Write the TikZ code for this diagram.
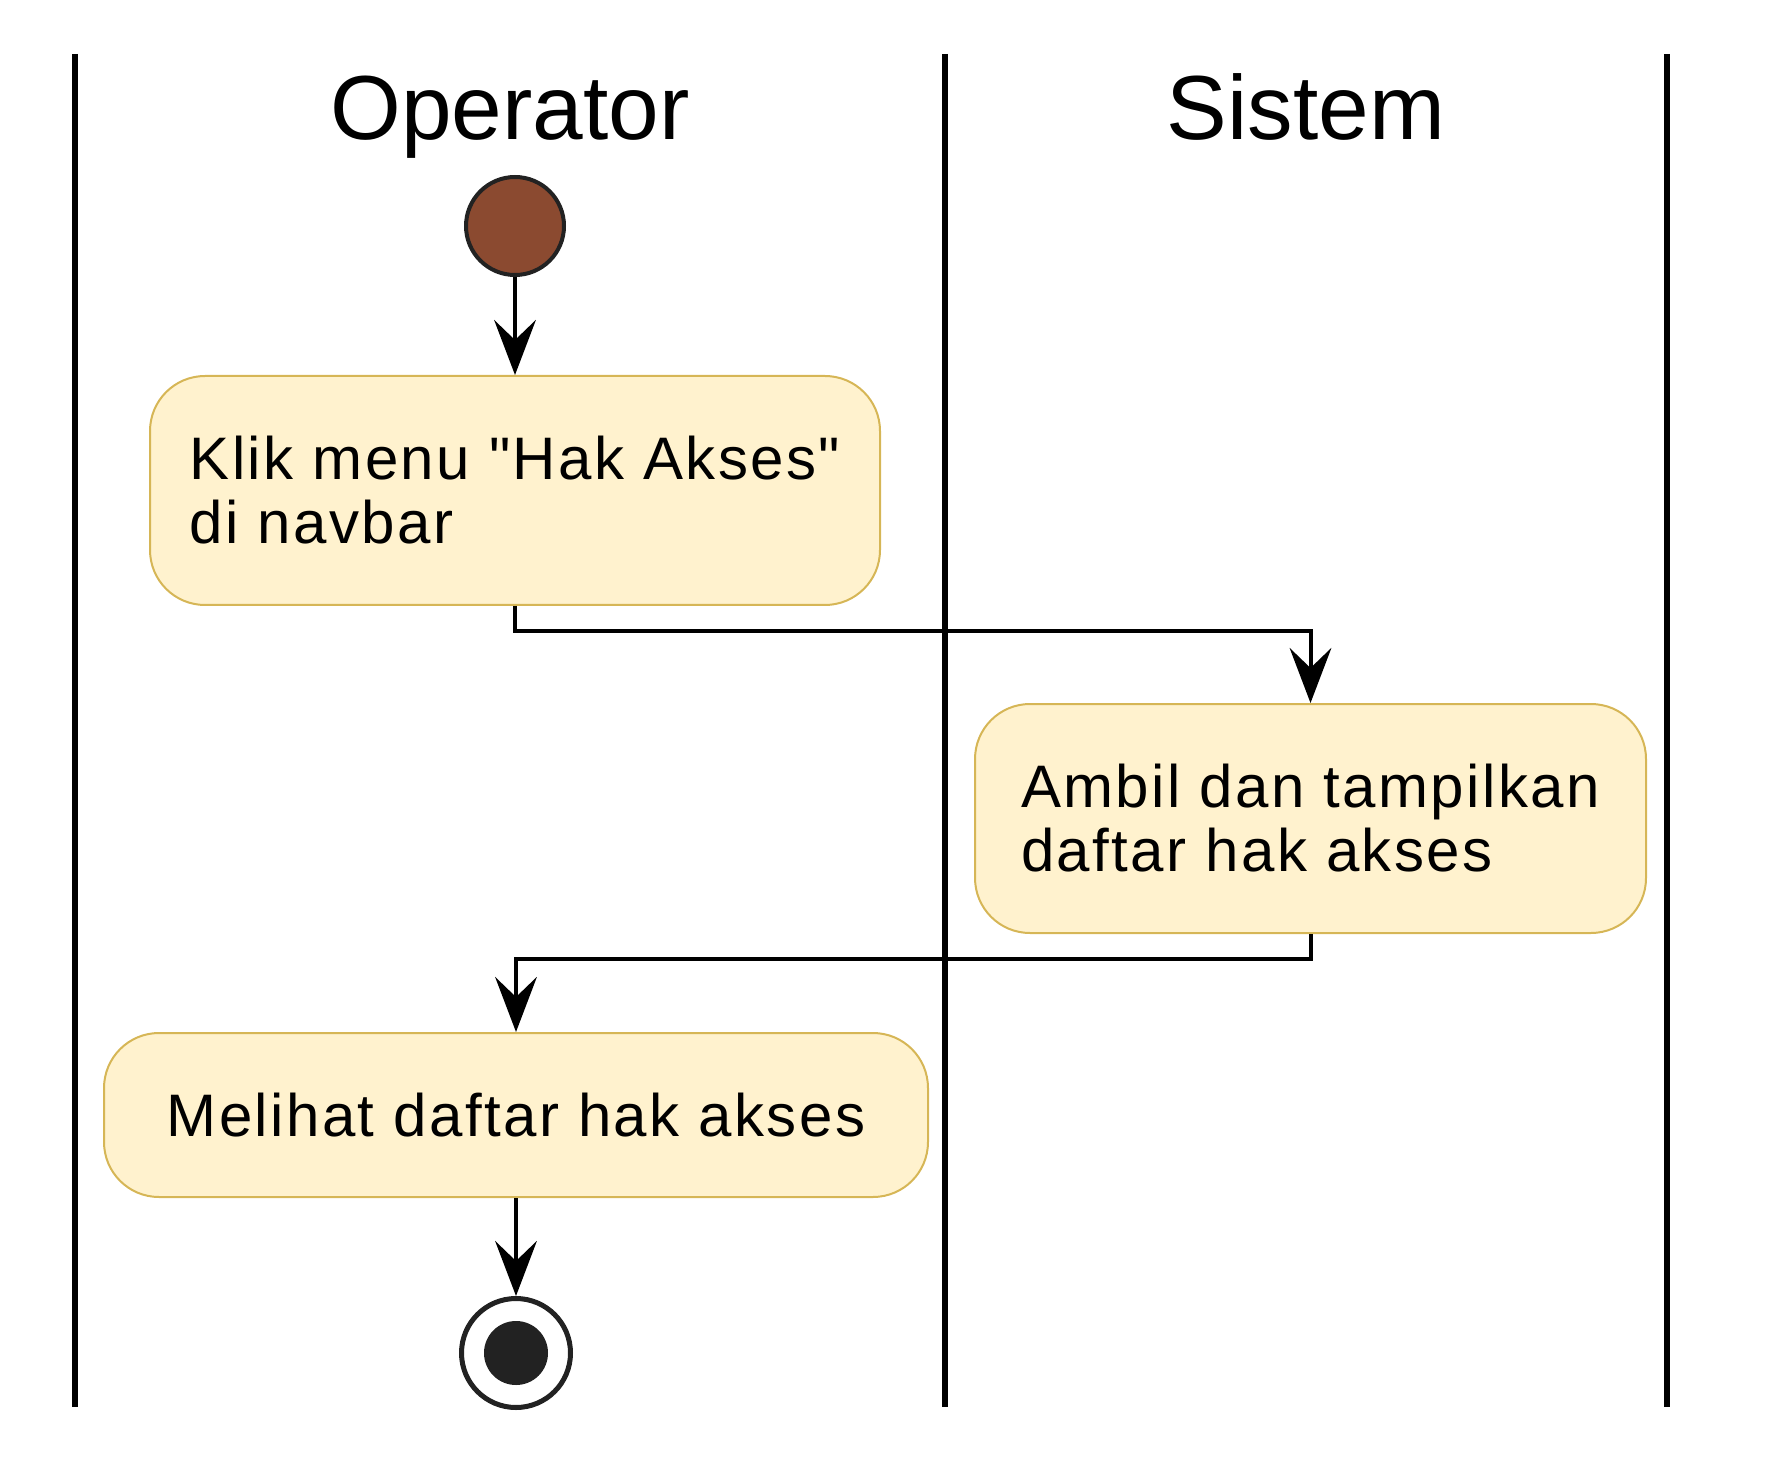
\documentclass[tikz,border=0pt]{standalone}
\usepackage{fontspec}
\setmainfont{Liberation Sans}
\newfontfamily\actfont[LetterSpace=4.0]{Liberation Sans}
\usetikzlibrary{arrows.meta,positioning}

\definecolor{startbrown}{RGB}{139,74,48}
\definecolor{darkring}{RGB}{34,34,34}
\definecolor{actfill}{RGB}{255,242,206}
\definecolor{actline}{RGB}{214,182,86}

\begin{document}
\begin{tikzpicture}[x=0.3pt, y=-0.3pt, node distance=29.4pt,
  lane/.style={line width=1.8pt},
  lanetitle/.style={anchor=base, inner sep=0pt, font=\fontsize{27.3pt}{30pt}\selectfont},
  act/.style={rectangle, rounded corners=16.5pt, draw=actline, fill=actfill, line width=0.6pt, align=left, inner sep=0pt, font=\actfont\fontsize{18pt}{19.2pt}\selectfont},
  startnode/.style={circle, draw=darkring, fill=startbrown, line width=1.2pt, minimum size=29.4pt, inner sep=0pt},
  stopnode/.style={circle, draw=darkring, fill=white, line width=1.5pt, minimum size=32.7pt, inner sep=0pt,
    path picture={\fill[darkring] (path picture bounding box.center) circle (9.6pt);}},
  flow/.style={-{Stealth[length=16.5pt, width=12.5pt, inset=6pt]}, line width=1.2pt}]
\useasboundingbox (0,0) rectangle (1770,1465);

% swimlanes
\draw[lane] (75,54) -- (75,1407);
\draw[lane] (945,54) -- (945,1407);
\draw[lane] (1667,54) -- (1667,1407);
\node[lanetitle] (operator) at (510,140) {Operator};
\node[lanetitle] (sistem) at (1306,140) {Sistem};

% activities
\node[startnode] (start) at (515,226) {};
\node[act, minimum width=219pt, minimum height=68.7pt, below=of start] (klik) {Klik menu "Hak Akses"\\di navbar};
\node[act, minimum width=201.3pt, minimum height=68.7pt] (ambil) at (1310.5,818.5) {Ambil dan tampilkan\\daftar hak akses};
\node[act, minimum width=247.2pt, minimum height=49.2pt] (lihat) at (516,1115) {Melihat daftar hak akses};
\node[stopnode, below=of lihat] (stop) {};

% connectors
\draw[flow] (start) -- (klik);
\draw[flow] (klik.south) -- ++(0,25) -| (ambil.north);
\draw[flow] (ambil.south) -- ++(0,25) -| (lihat.north);
\draw[flow] (lihat) -- (stop);
\end{tikzpicture}
\end{document}
